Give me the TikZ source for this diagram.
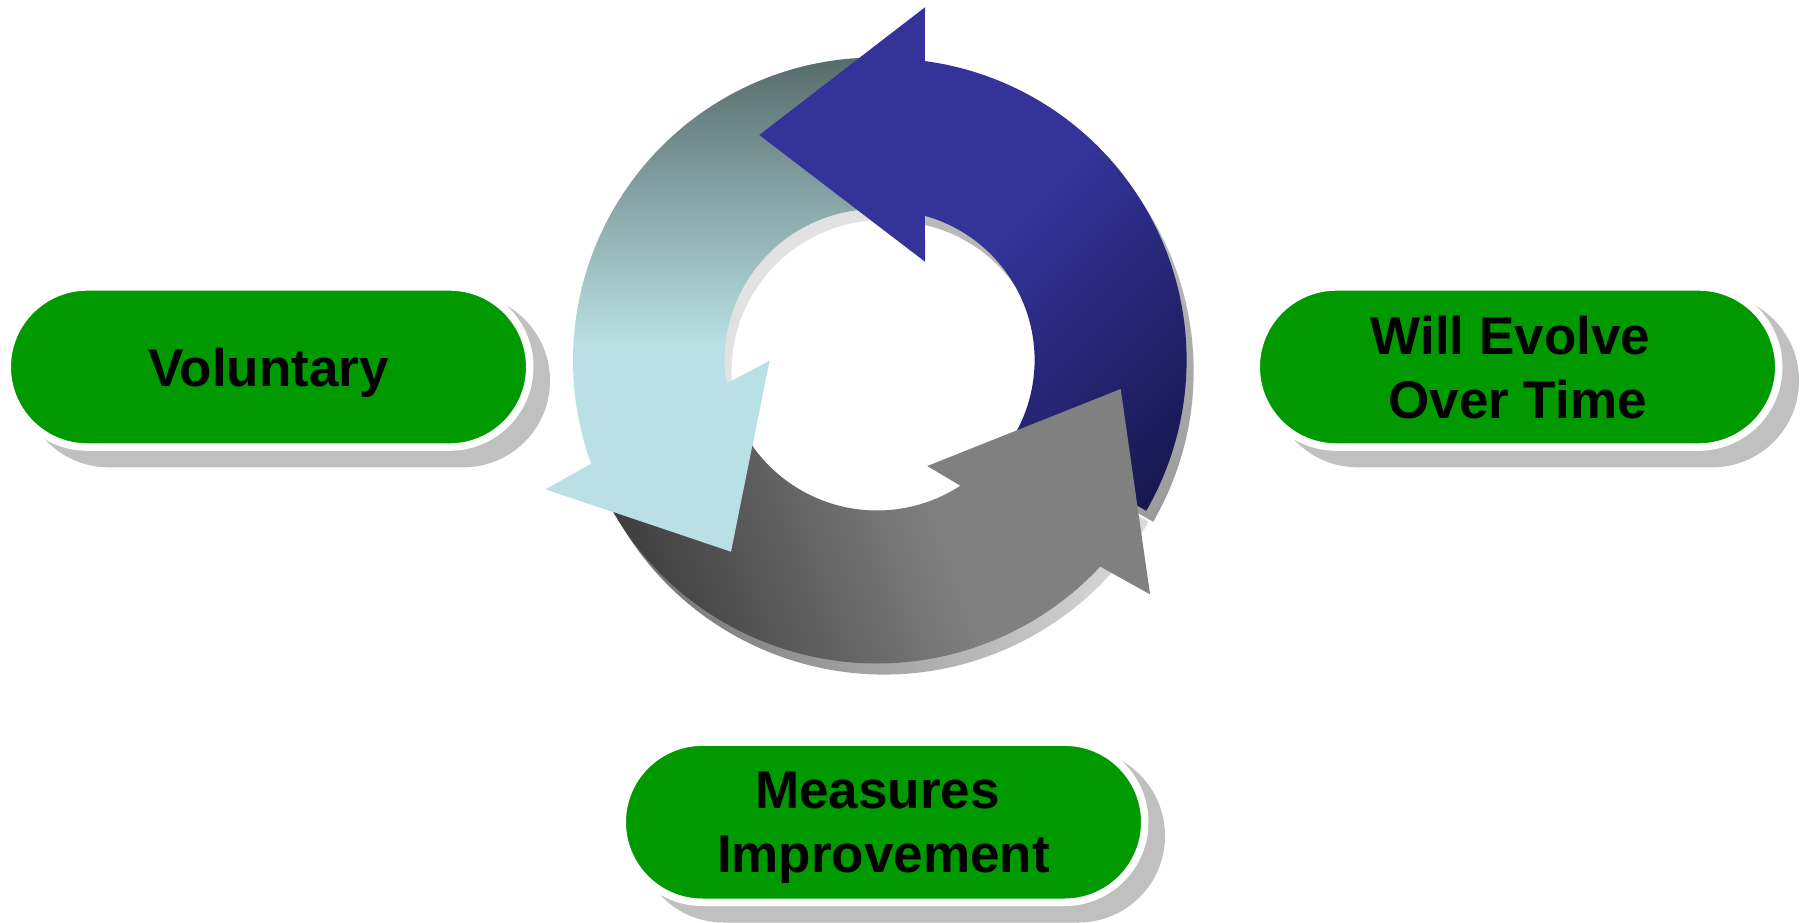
\documentclass[tikz,border=0pt]{standalone}
\usepackage{fontspec}
\setmainfont{Liberation Sans}
\usetikzlibrary{calc,shapes.misc}
\definecolor{pillgreen}{HTML}{009900}
\definecolor{pillshadow}{HTML}{C0C0C0}
\definecolor{blueA}{HTML}{333399}
\definecolor{blueD}{HTML}{141446}
\definecolor{tealL}{HTML}{B9E0E4}
\definecolor{tealD}{HTML}{566B6B}
\definecolor{grayA}{HTML}{808080}
\definecolor{grayD}{HTML}{363636}
\definecolor{sbBot}{HTML}{9A9A9A}
\definecolor{sbTop}{HTML}{CACACA}
\definecolor{stCol}{HTML}{E2E2E2}
\definecolor{sgL}{HTML}{6E6E6E}
\definecolor{sgR}{HTML}{DCDCDC}
\pgfdeclarehorizontalshading{blueshade}{100bp}{color(0bp)=(blueA); color(50bp)=(blueA); color(85.4bp)=(blueD); color(100bp)=(blueD)}
\pgfdeclareverticalshading{tealshade}{100bp}{color(0bp)=(tealL); color(46bp)=(tealL); color(75bp)=(tealD); color(100bp)=(tealD)}
\pgfdeclarehorizontalshading{grayshade}{100bp}{color(0bp)=(grayD); color(20bp)=(grayD); color(56bp)=(grayA); color(100bp)=(grayA)}
\pgfdeclareverticalshading{bshadow}{100bp}{color(0bp)=(sbBot); color(25bp)=(sbBot); color(75bp)=(sbTop); color(100bp)=(sbTop)}
\pgfdeclarehorizontalshading{gshadow}{100bp}{color(0bp)=(sgL); color(25bp)=(sgL); color(75bp)=(sgR); color(100bp)=(sgR)}
\tikzset{
  pill/.style={rounded rectangle, minimum width=522.5pt, minimum height=160.1pt,
    inner sep=0pt, fill=pillgreen, draw=white, line width=7.5pt, align=center,
    text depth=0pt, font=\bfseries\fontsize{53pt}{64pt}\selectfont},
  pillshade/.style={fill=pillshadow, rounded corners=86.6pt},
  bluearrow/.style={shading=blueshade, shading angle=-45},
  tealarrow/.style={shading=tealshade},
  grayarrow/.style={shading=grayshade, shading angle=20}
}
\begin{document}
\begin{tikzpicture}[x=1pt,y=1pt]
\useasboundingbox (0,0) rectangle (1810,-923);
\fill[white] (0,0) rectangle (1810,-923);
\coordinate (Cb) at (885,-360);
\coordinate (Ct) at (876,-360.5);
\coordinate (Cg) at (877,-358);
% shadows of the ring
\shade[shading=bshadow] ($(Cb)+(7,-11)+(-30:301.6pt)$) arc[start angle=-30, end angle=90, radius=301.6pt]
  -- ($(Cb)+(7,-11)+(90:149.6pt)$) arc[start angle=90, end angle=-30, radius=149.6pt] -- cycle;
\fill[stCol] ($(Ct)+(7,-11)+(90:303pt)$) arc[start angle=90, end angle=208, radius=303pt]
  -- ($(Ct)+(7,-11)+(208:151.5pt)$) arc[start angle=208, end angle=90, radius=151.5pt] -- cycle;
\shade[shading=gshadow] ($(Cg)+(7,-11)+(208:305.5pt)$) arc[start angle=208, end angle=330, radius=305.5pt]
  -- ($(Cg)+(7,-11)+(330:152.5pt)$) arc[start angle=330, end angle=208, radius=152.5pt] -- cycle;
% teal arrow
\shade[tealarrow] ($(Ct)+(90:303pt)$) arc[start angle=90, end angle=199.94, radius=303pt]
  -- (546,-489.3) -- (731,-551.7) -- (769.3,-361)
  -- ($(Ct)+(188.8:151.5pt)$) arc[start angle=188.8, end angle=90, radius=151.5pt] -- cycle;
% blue arrow
\shade[bluearrow] (925,-7.3) -- (759.3,-135) -- (925,-261.7)
  -- ($(Cb)+(74.5:149.6pt)$) arc[start angle=74.5, end angle=-30, radius=149.6pt]
  -- ($(Cb)+(-30:301.6pt)$) arc[start angle=-30, end angle=82.4, radius=301.6pt] -- cycle;
% gray arrow
\shade[grayarrow] ($(Cg)+(208:305.5pt)$) arc[start angle=208, end angle=316.94, radius=305.5pt]
  -- (1150,-594.3) -- (1120.7,-389) -- (927.3,-466)
  -- ($(Cg)+(-56.87:152.5pt)$) arc[start angle=-56.87, end angle=-152, radius=152.5pt] -- cycle;
% teal head on top of gray tail
\begin{scope}
\clip (546,-489.3) -- (731,-551.7) -- (769.3,-361) -- cycle;
\shade[tealarrow] ($(Ct)+(90:303pt)$) arc[start angle=90, end angle=199.94, radius=303pt]
  -- (546,-489.3) -- (731,-551.7) -- (769.3,-361)
  -- ($(Ct)+(188.8:151.5pt)$) arc[start angle=188.8, end angle=90, radius=151.5pt] -- cycle;
\end{scope}
% pill shadows
\fill[pillshade] (22,-294) rectangle (550,-467.3);
\fill[pillshade] (1271,-294) rectangle (1799,-467.3);
\fill[pillshade] (637,-749.2) rectangle (1165,-922.5);
% pills
\node[pill] (vol) at (268.5,-367) {Voluntary};
\node[pill] (evo) at (1517.5,-367) {Will Evolve\hspace*{14pt}\\Over Time};
\node[pill] (mea) at (883.5,-822.2) {Measures\hspace*{12pt}\\Improvement};
\end{tikzpicture}
\end{document}
